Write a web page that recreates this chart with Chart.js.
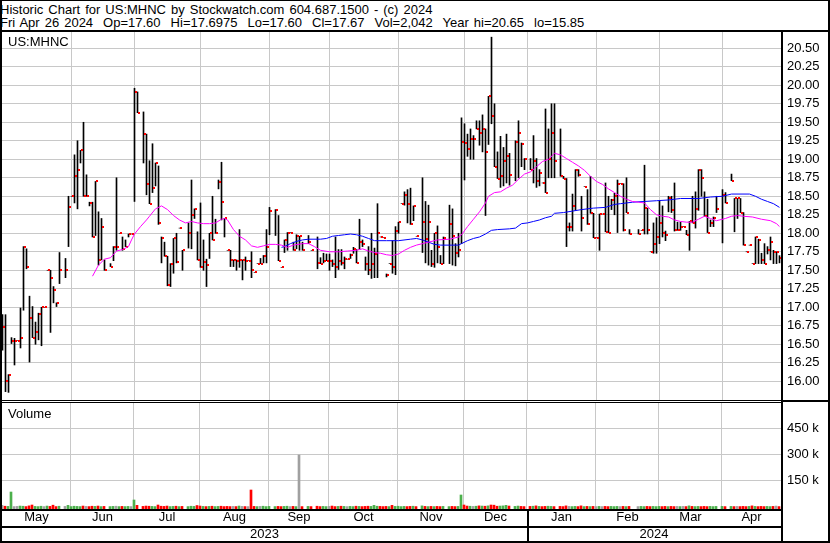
<!DOCTYPE html>
<html>
<head>
<meta charset="utf-8">
<script src="https://cdn.jsdelivr.net/npm/chart.js@4.4.1/dist/chart.umd.min.js"></script>
<style>
  body { margin: 0; background: #fff; }
  #page { position: relative; width: 830px; height: 543px; overflow: hidden;
          font: 13px "Liberation Sans", Arial, sans-serif; color: #000; }
  .txt { position: absolute; line-height: 13px; white-space: pre; }
  .hdr { word-spacing: 1.4px; }
  .ln { position: absolute; background: #000; }
  canvas { position: absolute; left: 0; }
</style>
</head>
<body>
<div id="page">
  <div class="txt hdr" style="left:0;top:3px">Historic Chart for US:MHNC by Stockwatch.com 604.687.1500 - (c) 2024</div>
  <div class="txt hdr" style="left:0;top:16px">Fri Apr 26 2024  Op=17.60  Hi=17.6975  Lo=17.60  Cl=17.67  Vol=2,042  Year hi=20.65  lo=15.85</div>
  <canvas id="priceChart" width="830" height="368" style="top:32px"></canvas>
  <canvas id="volChart" width="830" height="141" style="top:402px"></canvas>
  <div class="txt" style="left:8px;top:35px">US:MHNC</div>
  <div class="txt" style="left:8px;top:407px">Volume</div>

  <!-- frame -->
  <div class="ln" style="left:0;top:0;width:830px;height:1px"></div>
  <div class="ln" style="left:0;top:30px;width:830px;height:2px"></div>
  <div class="ln" style="left:0;top:0;width:2px;height:543px"></div>
  <div class="ln" style="left:828px;top:0;width:2px;height:543px"></div>
  <div class="ln" style="left:781px;top:30px;width:2px;height:513px"></div>
  <div class="ln" style="left:0;top:400px;width:781px;height:1px"></div>
  <div class="ln" style="left:0;top:402px;width:781px;height:1px"></div>
  <div class="ln" style="left:781px;top:400px;width:49px;height:2px"></div>
  <div class="ln" style="left:0;top:509px;width:781px;height:2px"></div>
  <div class="ln" style="left:0;top:526px;width:781px;height:2px"></div>
  <div class="ln" style="left:0;top:541px;width:830px;height:2px"></div>
  <div class="ln" style="left:527px;top:509px;width:2px;height:34px"></div>
</div>

<script>
// one slot per weekday, slot 0 = Mon May 1 2023, slot 259 = Fri Apr 26 2024
const highs = [
  16.90,16.90,16.09,16.59,16.58,16.55,16.99,17.82,17.79,17.15,
  17.01,16.80,16.92,17.00,17.00,17.50,17.50,17.28,17.06,17.74,
  null,17.66,18.50,18.50,19.06,19.25,19.12,19.50,18.79,18.42,
  18.42,18.70,18.29,18.20,17.64,null,17.59,17.82,18.75,18.00,
  17.95,17.91,17.99,17.99,19.96,19.91,null,19.64,19.34,18.98,
  19.21,18.95,18.91,17.95,17.88,17.69,17.59,17.93,18.00,18.07,
  17.77,null,18.14,18.72,18.33,18.02,18.41,17.91,17.65,18.00,
  18.50,18.19,18.72,18.96,18.20,17.77,17.77,17.64,17.64,18.05,
  17.64,17.68,17.63,17.75,17.47,17.59,17.66,17.70,18.05,18.35,
  null,18.32,18.24,17.54,17.91,18.01,18.01,17.88,17.98,17.96,
  17.88,null,17.97,17.77,null,17.95,17.67,17.73,17.72,17.72,
  17.64,17.95,17.78,17.78,17.68,17.65,17.72,17.81,17.78,18.19,
  17.91,17.68,17.82,18.00,17.80,18.40,17.95,17.94,17.45,17.59,
  17.90,18.09,18.15,18.40,18.56,18.59,18.61,18.37,17.96,null,
  18.75,18.43,18.38,17.77,18.00,18.10,17.70,17.95,null,18.38,
  18.33,17.86,18.00,19.56,19.48,19.34,19.41,19.32,19.52,19.52,
  19.60,19.41,19.85,20.65,19.75,19.10,19.31,19.16,19.34,19.08,
  null,19.25,19.52,19.22,19.01,null,19.01,19.32,19.01,18.86,
  18.68,19.68,19.41,19.75,19.75,null,19.41,18.77,18.74,18.14,
  18.53,18.86,18.86,18.50,18.63,18.59,18.77,18.27,17.94,18.26,
  18.26,18.68,18.50,18.46,18.54,18.72,18.67,18.67,18.75,18.05,
  null,null,18.05,18.04,18.92,18.34,17.75,18.14,18.21,18.44,
  18.37,18.03,18.50,18.50,18.68,18.15,18.15,18.09,18.04,18.16,
  18.50,18.56,18.86,18.86,18.56,18.46,18.18,18.22,18.50,null,
  18.59,18.55,null,18.80,18.47,18.47,18.47,18.28,17.75,17.84,
  17.59,17.95,17.92,17.73,17.86,17.82,17.95,17.77,17.75,17.6975
];
const lows = [
  16.42,15.86,15.85,16.51,16.22,16.55,16.45,16.96,17.52,16.26,
  16.59,16.50,16.56,16.48,17.00,17.50,16.66,17.06,17.01,17.32,
  null,17.40,17.82,18.50,18.41,18.33,18.95,18.50,18.50,18.37,
  17.95,17.97,17.57,17.64,17.50,null,17.55,17.63,17.77,18.00,
  17.77,17.82,17.95,17.99,18.43,19.63,null,18.95,18.52,18.40,
  18.55,18.64,18.12,17.60,17.69,17.29,17.28,17.46,17.60,18.07,
  17.50,null,17.80,17.79,18.20,17.64,17.54,17.50,17.28,17.66,
  17.91,18.00,18.60,18.18,17.95,17.77,17.55,17.55,17.50,17.54,
  17.37,17.50,17.63,17.40,17.47,17.59,17.59,17.60,17.60,17.98,
  null,17.97,17.63,17.54,17.74,17.77,18.01,17.77,17.79,17.77,
  17.77,null,17.86,17.77,null,17.52,17.59,17.60,17.63,17.50,
  17.55,17.40,17.51,17.57,17.52,17.65,17.66,17.73,17.60,17.78,
  17.82,17.50,17.44,17.39,17.40,17.40,17.95,17.94,17.41,17.59,
  17.46,17.44,18.00,18.40,18.38,18.14,18.12,18.17,17.96,null,
  17.74,17.60,17.57,17.55,17.54,17.60,17.59,17.59,null,17.59,
  17.57,17.56,17.68,17.86,18.72,19.04,19.00,19.00,19.41,19.19,
  19.10,18.24,19.20,19.48,18.90,18.74,18.62,18.64,18.68,18.65,
  null,18.71,18.75,18.90,18.86,null,18.86,18.68,18.62,18.64,
  18.68,18.55,18.75,18.75,18.75,null,18.77,18.74,17.82,18.03,
  18.03,18.31,18.77,18.03,18.63,18.12,18.27,17.94,17.94,17.77,
  18.26,18.02,18.01,18.32,18.25,18.01,18.67,18.03,18.28,17.99,
  null,null,17.99,18.04,17.99,17.99,17.75,17.73,17.73,17.86,
  17.95,17.90,18.29,18.28,18.03,18.04,18.04,18.09,17.98,17.77,
  18.14,18.07,18.31,18.50,18.23,18.01,18.09,18.09,18.28,null,
  17.87,18.41,null,18.71,18.02,18.20,18.28,17.84,17.75,17.84,
  17.59,17.59,17.59,17.59,17.59,17.72,17.64,17.59,17.59,17.60
];
const closes = [
  16.73,16.00,16.09,16.55,16.55,16.55,16.59,17.82,17.54,16.85,
  16.59,16.67,16.91,17.00,17.00,17.50,17.40,17.23,17.06,17.50,
  null,17.50,18.36,18.50,18.77,18.85,19.12,18.51,18.51,18.41,
  17.95,18.70,17.64,18.09,17.50,null,17.55,17.81,17.81,18.00,
  17.79,17.82,17.99,17.99,19.91,19.63,null,19.34,18.67,18.40,
  18.61,18.95,18.14,17.94,17.69,17.30,17.59,17.93,17.61,18.07,
  17.77,null,18.00,18.25,18.33,17.64,17.55,17.61,17.57,18.00,
  17.91,18.00,18.69,18.42,18.20,17.77,17.64,17.64,17.63,17.64,
  17.64,17.63,17.63,17.51,17.47,17.59,17.59,17.69,17.82,18.30,
  null,18.31,17.63,17.54,17.91,18.01,18.01,17.77,17.96,17.96,
  17.77,null,17.88,17.77,null,17.60,17.59,17.62,17.63,17.63,
  17.59,17.55,17.62,17.60,17.65,17.65,17.71,17.79,17.60,17.88,
  17.86,17.59,17.50,17.59,17.72,18.00,17.95,17.94,17.44,17.59,
  17.54,18.03,18.15,18.40,18.52,18.40,18.12,18.37,17.96,null,
  18.15,17.92,18.15,17.59,18.00,17.82,17.59,17.94,null,18.13,
  17.96,17.74,17.77,19.23,19.22,19.14,19.27,19.27,19.41,19.36,
  19.41,19.10,19.85,19.59,18.90,18.74,18.78,18.98,19.05,18.79,
  null,19.24,19.36,19.21,19.01,null,18.86,18.98,18.70,18.82,
  18.68,18.55,19.00,19.36,18.97,null,18.78,18.74,18.09,18.09,
  18.37,18.86,18.79,18.20,18.63,18.12,18.27,17.94,17.94,18.26,
  18.26,18.02,18.01,18.45,18.51,18.67,18.67,18.04,18.28,17.99,
  null,null,17.99,18.04,18.34,18.04,17.75,17.85,17.95,18.14,
  18.00,17.98,18.47,18.31,18.04,18.04,18.09,18.09,17.98,18.16,
  18.14,18.33,18.85,18.75,18.23,18.01,18.14,18.20,18.33,null,
  18.52,18.41,null,18.71,18.47,18.47,18.28,17.84,17.75,17.84,
  17.59,17.95,17.91,17.64,17.59,17.78,17.88,17.75,17.75,17.67
];
const volumes = [
  9000,4000,3000,86000,2000,3000,5000,4000,2000,6000,11000,3000,2000,4000,2000,5000,3000,10000,2000,4000,
  null,3000,9000,2000,4000,3000,2000,5000,3000,2000,4000,3000,5000,2000,3000,null,2000,3000,4000,2000,
  3000,2000,3000,2000,40000,9000,null,3000,5000,4000,3000,2000,11000,4000,3000,5000,2000,3000,4000,2000,
  3000,null,2000,4000,3000,8000,5000,3000,2000,3000,4000,2000,3000,4000,2000,3000,2000,3000,2000,5000,
  3000,2000,2000,97600,3000,2000,3000,4000,2000,3000,null,2000,3000,2000,3000,4000,2000,3000,2000,299500,
  2000,null,3000,2000,null,4000,2000,3000,2000,3000,5000,2000,3000,4000,3000,2000,3000,2000,4000,3000,
  2000,3000,4000,3000,9000,4000,3000,2000,3000,2000,9000,3000,4000,2000,3000,2000,3000,4000,2000,null,
  6000,3000,2000,3000,2000,3000,2000,3000,null,2000,3000,2000,3000,68800,11000,5000,4000,3000,4000,6000,
  5000,4000,6000,11000,10000,4000,5000,6000,9000,5000,null,3000,5000,3000,2000,null,3000,4000,6000,3000,
  2000,3000,4000,3000,2000,null,3000,2000,6000,3000,2000,3000,2000,6000,2000,3000,2000,3000,2000,3000,
  2000,3000,2000,3000,2000,3000,2000,3000,2000,3000,null,null,2000,3000,2000,3000,2000,3000,2000,3000,
  2000,3000,2000,3000,2000,3000,2000,3000,2000,6000,3000,2000,3000,2000,3000,2000,3000,2000,3000,null,
  3000,2000,null,3000,2000,3000,2000,3000,2000,3000,6000,3000,2000,3000,2000,3000,2000,3000,5000,2042
];

// moving averages (slot, value)
const maFastDays = [30,32,34,36,38,40,42,43,44,46,48,49,51,53,55,57,59,61,63,65,67,69,71,73,74,75,77,79,81,83,85,87,89,91,93,95,97,100,102,104,106,109,112,115,118,120,122,124,126,128,130,132,134,136,138,140,142,145,149,152,153,155,157,159,161,162,164,166,168,170,172,174,176,178,180,182,184,186,188,190,192,194,196,198,200,202,204,206,208,210,212,214,216,218,220,222,224,226,228,230,232,234,236,238,241,243,245,247,250,253,256,258,259];
const maFastValues = [17.42,17.57,17.65,17.67,17.76,17.78,17.82,17.91,17.99,18.09,18.18,18.23,18.33,18.37,18.32,18.24,18.18,18.14,18.16,18.14,18.13,18.13,18.14,18.19,18.20,18.18,18.05,17.96,17.91,17.83,17.81,17.83,17.85,17.85,17.84,17.81,17.84,17.86,17.86,17.82,17.77,17.75,17.75,17.76,17.77,17.79,17.76,17.74,17.73,17.71,17.70,17.72,17.77,17.81,17.84,17.86,17.88,17.91,17.92,17.95,17.98,18.09,18.19,18.29,18.41,18.50,18.55,18.56,18.61,18.65,18.73,18.80,18.83,18.90,18.97,19.00,19.08,19.06,19.01,18.96,18.91,18.85,18.77,18.70,18.66,18.60,18.55,18.50,18.46,18.43,18.42,18.41,18.32,18.25,18.23,18.22,18.18,18.16,18.15,18.15,18.19,18.23,18.20,18.17,18.20,18.23,18.24,18.23,18.22,18.19,18.17,18.13,18.09];
const maSlowDays = [93,94,96,98,100,102,106,108,110,112,114,116,118,120,122,124,128,132,136,138,140,142,144,146,149,152,153,155,157,159,161,163,165,169,171,173,175,177,179,181,183,184,187,190,193,197,201,204,206,208,210,214,218,222,224,226,232,234,236,240,243,249,251,253,255,257,259];
const maSlowValues = [17.81,17.82,17.86,17.89,17.91,17.92,17.92,17.93,17.96,17.97,17.98,17.99,17.98,17.96,17.93,17.90,17.90,17.90,17.92,17.93,17.91,17.88,17.85,17.84,17.84,17.84,17.86,17.90,17.93,17.95,17.99,18.04,18.05,18.06,18.07,18.13,18.14,18.16,18.18,18.21,18.23,18.27,18.28,18.30,18.32,18.34,18.35,18.39,18.40,18.41,18.42,18.43,18.44,18.45,18.46,18.47,18.47,18.48,18.49,18.50,18.53,18.53,18.50,18.46,18.43,18.40,18.35];

const priceTicks = [16.00,16.25,16.50,16.75,17.00,17.25,17.50,17.75,18.00,18.25,18.50,18.75,19.00,19.25,19.50,19.75,20.00,20.25,20.50];
const volTicks = [150000, 300000, 450000];
const monthLabels = ['May','Jun','Jul','Aug','Sep','Oct','Nov','Dec','Jan','Feb','Mar','Apr'];
const monthStarts = [0,23,44,66,89,109,132,154,175,198,219,240];
const yearLabels = ['2023','2024'];
const yearStarts = [0,175];

const GRID = '#c8c8c8';
const lastEdge = 259.6667;
Chart.defaults.font.family = '"Liberation Sans", Arial, sans-serif';
Chart.defaults.font.size = 13;
Chart.defaults.color = '#000';

function mids(starts) {
  return starts.map((s, i) => (s + (i + 1 < starts.length ? starts[i + 1] : lastEdge)) / 2);
}
function fixWidth(w) {
  return s => { s.width = w; s.paddingTop = 0; s.paddingBottom = 0; };
}
function fixHeight(h) {
  return s => { s.height = h; s.paddingLeft = 0; s.paddingRight = 0; };
}
function setTicks(values) {
  return s => { s.ticks = values.map(v => ({ value: v })); };
}

// small red close mark, drawn just right of the high-low line
const closeMark = document.createElement('canvas');
closeMark.width = 5;
closeMark.height = 2;
const cm = closeMark.getContext('2d');
cm.fillStyle = '#ff0000';
cm.fillRect(3, 0, 2, 2);

const traded = closes.map((c, i) => i).filter(i => closes[i] !== null);

new Chart(document.getElementById('priceChart'), {
  type: 'bar',
  data: {
    datasets: [
      {
        type: 'line',
        data: maFastDays.map((d, i) => ({ x: d, y: maFastValues[i] })),
        borderColor: '#ff00ff', borderWidth: 1, pointRadius: 0, tension: 0
      },
      {
        type: 'line',
        data: maSlowDays.map((d, i) => ({ x: d, y: maSlowValues[i] })),
        borderColor: '#0000ff', borderWidth: 1, pointRadius: 0, tension: 0
      },
      {
        type: 'line',
        data: traded.map(i => ({ x: i, y: closes[i] })),
        showLine: false, pointStyle: closeMark, pointRadius: 2, pointHoverRadius: 2
      },
      {
        type: 'bar',
        data: traded.map(i => ({ x: i, y: [lows[i], highs[i]] })),
        backgroundColor: '#000', borderWidth: 0, barThickness: 1
      }
    ]
  },
  options: {
    responsive: false, animation: false, devicePixelRatio: 1, events: [],
    layout: { autoPadding: false, padding: { left: 2, right: 0, top: 0, bottom: 0 } },
    plugins: { legend: { display: false }, tooltip: { enabled: false } },
    scales: {
      x: {
        type: 'linear', min: -1 / 6, max: lastEdge - 1 / 6, offset: false,
        afterBuildTicks: setTicks(monthStarts.slice(1)),
        ticks: { display: false },
        grid: { color: GRID, drawTicks: false, offset: false },
        border: { display: false },
        afterFit: fixHeight(0)
      },
      y: {
        position: 'right', min: 15.747, max: 20.72,
        afterBuildTicks: setTicks(priceTicks),
        ticks: { padding: 6, autoSkip: false, callback: v => v.toFixed(2) },
        grid: { color: GRID, drawTicks: false },
        border: { display: false },
        afterFit: fixWidth(49)
      }
    }
  }
});

// volume bars coloured by the close change
const volData = [];
const volColors = [];
let prev = null;
volumes.forEach((v, i) => {
  if (v === null) return;
  const c = closes[i];
  let col = '#a0a0a0';
  if (prev !== null && c > prev) col = '#4cb04c';
  if (prev !== null && c < prev) col = '#ff0000';
  prev = c;
  volData.push({ x: i, y: v });
  volColors.push(col);
});
const volMin = -12000;
const volMax = 605300;

new Chart(document.getElementById('volChart'), {
  type: 'bar',
  data: {
    datasets: [{
      data: volData, backgroundColor: volColors, borderWidth: 0,
      barThickness: 2, base: volMin
    }]
  },
  options: {
    responsive: false, animation: false, devicePixelRatio: 1, events: [],
    layout: { autoPadding: false, padding: { left: 2, right: 0, top: 0, bottom: 1 } },
    plugins: { legend: { display: false }, tooltip: { enabled: false } },
    scales: {
      x: {
        type: 'linear', min: 0, max: lastEdge, offset: false,
        afterBuildTicks: setTicks(monthStarts.slice(1)),
        ticks: { display: false },
        grid: { color: GRID, drawTicks: false, offset: false },
        border: { display: false },
        afterFit: fixHeight(0)
      },
      xm: {
        type: 'linear', position: 'bottom', min: 0, max: lastEdge, offset: false,
        afterBuildTicks: setTicks(mids(monthStarts)),
        ticks: { padding: 1, autoSkip: false, maxRotation: 0, callback: (v, i) => monthLabels[i] },
        grid: { display: false, drawTicks: false },
        border: { display: false },
        afterFit: fixHeight(17)
      },
      xy: {
        type: 'linear', position: 'bottom', min: 0, max: lastEdge, offset: false,
        afterBuildTicks: setTicks(mids(yearStarts)),
        ticks: { padding: 1, autoSkip: false, maxRotation: 0, callback: (v, i) => yearLabels[i] },
        grid: { display: false, drawTicks: false },
        border: { display: false },
        afterFit: fixHeight(16)
      },
      y: {
        position: 'right', min: volMin, max: volMax,
        afterBuildTicks: setTicks(volTicks),
        ticks: { padding: 6, autoSkip: false, callback: v => (v / 1000) + ' k' },
        grid: { color: GRID, drawTicks: false },
        border: { display: false },
        afterFit: fixWidth(49)
      }
    }
  }
});
</script>
</body>
</html>
